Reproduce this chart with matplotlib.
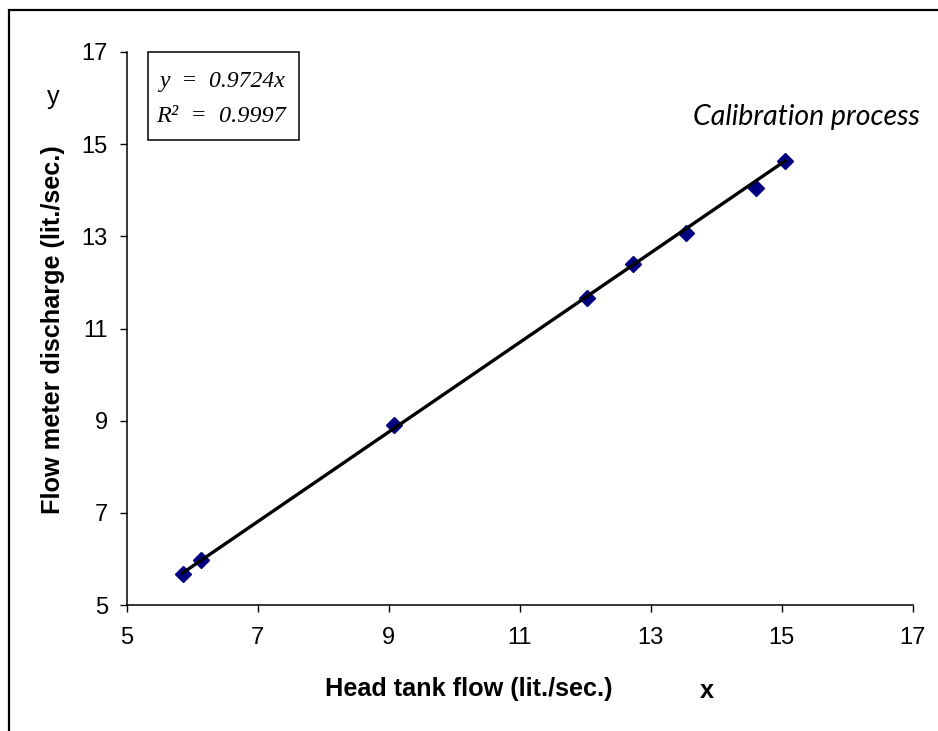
import matplotlib
matplotlib.use('Agg')
import matplotlib.pyplot as plt
from matplotlib.patches import Rectangle
import numpy as np

# calibration readings (lit./sec.)
head_tank_flow = [5.86, 6.14, 9.08, 12.03, 12.73, 13.54, 14.61, 15.05]
flow_meter_discharge = [5.68, 5.97, 8.91, 11.67, 12.40, 13.07, 14.05, 14.63]

slope = 0.9724
r_squared = 0.9997

ticks = [5, 7, 9, 11, 13, 15, 17]

W, H = 938, 731
fig = plt.figure(figsize=(W / 100, H / 100), dpi=100)
ax = fig.add_axes([126.5 / W, 1 - 605 / H, (912.7 - 126.5) / W, (605 - 52) / H])

# points first, trendline drawn over them
ax.plot(head_tank_flow, flow_meter_discharge, linestyle='none', marker='D',
        markersize=8, color='#000080', zorder=2)
x_line = np.array([min(head_tank_flow), max(head_tank_flow)])
ax.plot(x_line, slope * x_line, color='black', linewidth=2.4, zorder=3)

ax.set_xlim(5, 17)
ax.set_ylim(5, 17)
ax.set_xticks(ticks)
ax.set_yticks(ticks)
ax.set_xticklabels([str(t) for t in ticks], family='Liberation Sans', fontsize=17)
ax.set_yticklabels([str(t) for t in ticks], family='Liberation Sans', fontsize=17)
ax.tick_params(axis='both', direction='out', length=5, width=1, color='black')
ax.tick_params(axis='x', pad=10.5)
ax.tick_params(axis='y', pad=8.5)

for side in ['top', 'right']:
    ax.spines[side].set_visible(False)
for side in ['left', 'bottom']:
    ax.spines[side].set_linewidth(1.1)

# axis titles
fig.text(53 / W, 1 - 330 / H, 'Flow meter discharge (lit./sec.)', rotation=90,
         ha='center', va='center', family='Liberation Sans', fontweight='bold', fontsize=18.2)
fig.text(53 / W, 1 - 97 / H, 'y', ha='center', va='center',
         family='Liberation Sans', fontsize=18.2)
fig.text(469 / W, 1 - 689 / H, 'Head tank flow (lit./sec.)', ha='center', va='center',
         family='Liberation Sans', fontweight='bold', fontsize=18.2)
fig.text(707 / W, 1 - 691 / H, 'x', ha='center', va='center',
         family='Liberation Sans', fontweight='bold', fontsize=18.2)

# equation box
fig.patches.append(Rectangle((147.7 / W, 1 - 140 / H), (299 - 147.7) / W, (140 - 52.3) / H,
                             transform=fig.transFigure, fill=False, edgecolor='black',
                             linewidth=1.1))
fig.text(223 / W, 1 - 81.5 / H, f'y  =  {slope:.4f}x', ha='center', va='center',
         family='Liberation Serif', style='italic', fontsize=17)
fig.text(221 / W, 1 - 116.5 / H, f'R²  =  {r_squared:.4f}', ha='center', va='center',
         family='Liberation Serif', style='italic', fontsize=17.5)

fig.text(806 / W, 1 - 117 / H, 'Calibration process', ha='center', va='center',
         family='Lato', style='italic', fontsize=20.5)

# outer frame (right and bottom edges fall outside the picture)
fig.patches.append(Rectangle((9 / W, -0.1), 2, 1.1 - 10 / H, transform=fig.transFigure,
                             fill=False, edgecolor='black', linewidth=1.6))

fig.savefig('out.png', dpi=100)
